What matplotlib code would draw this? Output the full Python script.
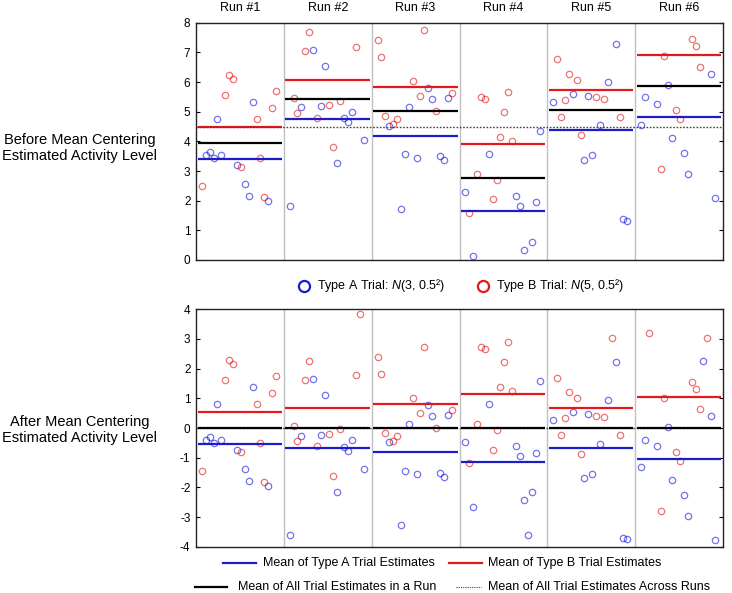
import matplotlib as mpl
mpl.use('Agg')
import matplotlib.pyplot as plt
import numpy as np

plt.rcdefaults()
plt.rcParams['font.family'] = ['Liberation Sans', 'DejaVu Sans']
plt.rcParams['axes.unicode_minus'] = False
plt.rcParams['mathtext.fontset'] = 'custom'
plt.rcParams['mathtext.it'] = 'Liberation Sans:italic'
plt.rcParams['mathtext.rm'] = 'Liberation Sans'

# estimates per run, in trial order (A = type A trial, B = type B trial)
run_labels = ["Run #1", "Run #2", "Run #3", "Run #4", "Run #5", "Run #6"]
types_run1 = "BAAAAABBBABAAABBBABB"
types_run2 = "ABBABBABAABBABAAABBA"
types_run3 = "BBBABBAAABABBAABAAAB"
types_run4 = "ABABBBABBBBBBAAAAAAA"
types_run5 = "ABBBBABBAAABABABABAA"
types_run6 = "AABBABBAABBAABBBABAA"
est_run1 = [2.51, 3.55, 3.64, 3.45, 4.76, 3.54, 5.57, 6.25, 6.09, 3.20,
            3.15, 2.56, 2.16, 5.34, 4.74, 3.44, 2.11, 1.98, 5.13, 5.71]
est_run2 = [1.81, 5.47, 4.97, 5.15, 7.04, 7.67, 7.07, 4.80, 5.19, 6.54,
            5.22, 3.81, 3.26, 5.37, 4.79, 4.65, 5.00, 7.19, 9.24, 4.03]
est_run3 = [7.42, 6.83, 4.85, 4.53, 4.57, 4.74, 1.73, 3.56, 5.15, 6.03,
            3.45, 5.52, 7.75, 5.80, 5.42, 5.02, 3.49, 3.36, 5.45, 5.62]
est_run4 = [2.29, 1.60, 0.12, 2.90, 5.51, 5.43, 3.57, 2.04, 2.69, 4.15,
            4.99, 5.66, 4.00, 2.16, 1.81, 0.35, -0.83, 0.61, 1.94, 4.35]
est_run5 = [5.34, 6.76, 4.83, 5.40, 6.28, 5.61, 6.07, 4.20, 3.38, 5.54,
            3.53, 5.48, 4.54, 5.44, 6.00, 8.11, 7.29, 4.83, 1.37, 1.31]
est_run6 = [4.56, 5.48, 9.09, 10.17, 5.26, 3.07, 6.88, 5.91, 4.12, 5.07,
            4.75, 3.61, 2.91, 7.44, 7.20, 6.51, 8.14, 8.92, 6.28, 2.10]
across_runs_mean = 4.5

trial_types = [types_run1, types_run2, types_run3, types_run4, types_run5, types_run6]
estimates = [est_run1, est_run2, est_run3, est_run4, est_run5, est_run6]

BLUE = '#1c1cc8'
RED = '#e3191c'
RUN_W = 22.5
X0 = 1.5

fig = plt.figure(figsize=(7.32, 5.93), dpi=100)
# overlay in pixel coords for labels / legends
ov = fig.add_axes([0, 0, 1, 1])
ov.set_xlim(0, 732)
ov.set_ylim(593, 0)
ov.axis('off')

ax_top = fig.add_axes([196/732, (593-260)/593, 527/732, 237.3/593])
ax_bot = fig.add_axes([196/732, (593-546.7)/593, 527/732, 237.4/593])

for r in range(len(estimates)):
    vals = np.array(estimates[r])
    types = np.array(list(trial_types[r]))
    x = r*RUN_W + X0 + np.arange(len(vals))
    run_mean = vals.mean()
    x0, x1 = r*RUN_W + 0.4, (r+1)*RUN_W - 0.5
    for ax, shift in ((ax_top, 0.0), (ax_bot, run_mean)):
        y = vals - shift
        a = types == 'A'
        b = types == 'B'
        ax.plot(x[a], y[a], 'o', mfc='none', mec='#0000dd', alpha=0.55, ms=4.6, mew=0.9, zorder=3)
        ax.plot(x[b], y[b], 'o', mfc='none', mec='#dd0000', alpha=0.55, ms=4.6, mew=0.9, zorder=3)
        ax.hlines(y[a].mean(), x0, x1, color=BLUE, lw=1.6, zorder=4)
        ax.hlines(y[b].mean(), x0, x1, color=RED, lw=1.6, zorder=4)
        ax.hlines(y.mean(), x0, x1, color='black', lw=1.6, zorder=4)
    if r > 0:
        for ax in (ax_top, ax_bot):
            ax.axvline(r*RUN_W, color='#c0c0c0', lw=1, zorder=1)
    ax_top.text((r+0.5)*RUN_W, 1.062, run_labels[r], transform=ax_top.get_xaxis_transform(),
                ha='center', va='center', fontsize=9)

ax_top.axhline(across_runs_mean, color='#444444', lw=1, ls=(0, (1.2, 1.2)), zorder=5)
ax_bot.axhline(0, color='#444444', lw=1, ls=(0, (1.2, 1.2)), zorder=2)

for ax, lo, hi in ((ax_top, 0, 8), (ax_bot, -4, 4)):
    ax.set_xlim(0, 6*RUN_W)
    ax.set_ylim(lo, hi)
    ax.set_yticks(range(lo, hi+1))
    ax.set_xticks([])
    ax.tick_params(axis='y', direction='in', length=3, width=0.8, right=True, labelsize=8.5, pad=4)
    for s in ax.spines.values():
        s.set_color('#222222')
        s.set_linewidth(1)

ov.text(80, 148, "Before Mean Centering\nEstimated Activity Level", ha='center', va='center',
        fontsize=10.5, linespacing=1.25)
ov.text(80, 430, "After Mean Centering\nEstimated Activity Level", ha='center', va='center',
        fontsize=10.5, linespacing=1.25)

# marker legend between panels
ov.plot([304], [286], 'o', mfc='none', mec=BLUE, ms=8, mew=1.6)
ov.text(317, 286, "Type A Trial: $\\mathit{N}$(3, 0.5²)", va='center', fontsize=9)
ov.plot([483], [286], 'o', mfc='none', mec=RED, ms=8, mew=1.6)
ov.text(496, 286, "Type B Trial: $\\mathit{N}$(5, 0.5²)", va='center', fontsize=9)

# line legend below
ov.plot([223, 256], [563, 563], color=BLUE, lw=1.6)
ov.text(263, 563, "Mean of Type A Trial Estimates", va='center', fontsize=9)
ov.plot([449, 482], [563, 563], color=RED, lw=1.6)
ov.text(488, 563, "Mean of Type B Trial Estimates", va='center', fontsize=9)
ov.plot([195, 227], [587, 587], color='black', lw=1.6)
ov.text(238, 587, "Mean of All Trial Estimates in a Run", va='center', fontsize=9)
ov.plot([456, 481], [587, 587], color='#444444', lw=0.8, ls=(0, (1, 1)))
ov.text(488, 587, "Mean of All Trial Estimates Across Runs", va='center', fontsize=9)

plt.savefig("out.png", dpi=100)
